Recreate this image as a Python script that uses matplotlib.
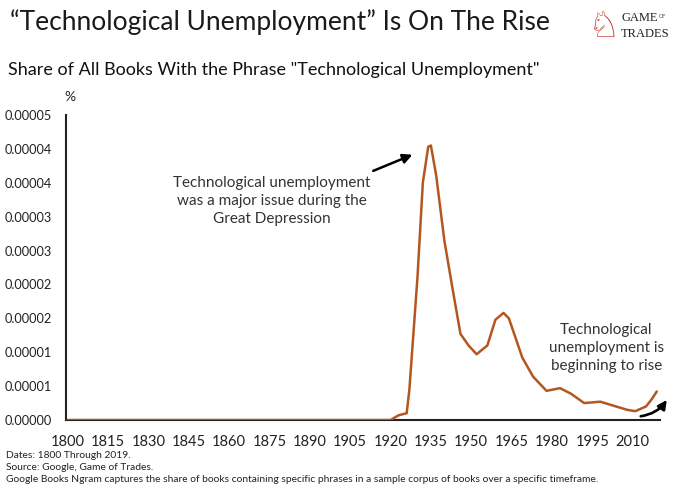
import matplotlib
matplotlib.use("Agg")
import matplotlib.pyplot as plt

plt.rcParams['font.family'] = ['Lato', 'DejaVu Sans']

# share of books with the phrase (%)
years = [1800, 1920, 1923, 1926, 1927, 1930, 1932, 1934, 1935, 1937, 1940, 1943,
         1946, 1949, 1952, 1956, 1959, 1962, 1964, 1969, 1973, 1978, 1983, 1987,
         1992, 1998, 2003, 2008, 2011, 2015, 2017, 2019]
share = [0, 0, 0.07e-5, 0.10e-5, 0.45e-5, 2.1e-5, 3.5e-5, 4.03e-5, 4.05e-5, 3.6e-5,
         2.65e-5, 1.95e-5, 1.27e-5, 1.1e-5, 0.97e-5, 1.1e-5, 1.48e-5, 1.58e-5,
         1.5e-5, 0.92e-5, 0.64e-5, 0.43e-5, 0.47e-5, 0.39e-5, 0.25e-5, 0.27e-5,
         0.21e-5, 0.15e-5, 0.13e-5, 0.2e-5, 0.3e-5, 0.42e-5]

xticks = list(range(1800, 2011, 15))
yticks = [i * 0.5e-5 for i in range(10)]
ytick_labels = ["0.00000", "0.00001", "0.00001", "0.00002", "0.00002",
                "0.00003", "0.00003", "0.00004", "0.00004", "0.00005"]

fig = plt.figure(figsize=(6.8, 4.95), dpi=100)
ax = fig.add_axes([66 / 680, 1 - 420 / 495, (660 - 66) / 680, 305 / 495])

ax.plot(years, share, color='#b4561f', lw=1.8, solid_capstyle='round', zorder=3)

ax.set_xlim(1799.3, 2020.2)
ax.set_ylim(0, 4.5e-5)
ax.set_xticks(xticks)
ax.set_xticklabels([str(y) for y in xticks], fontsize=10.5)
ax.set_yticks(yticks)
ax.set_yticklabels(ytick_labels, fontsize=9.2)
ax.tick_params(axis='both', length=0, colors='#222222')
ax.tick_params(axis='y', pad=10)
ax.tick_params(axis='x', pad=11)
for s in ['top', 'right']:
    ax.spines[s].set_visible(False)
for s in ['left', 'bottom']:
    ax.spines[s].set_linewidth(1.5)
    ax.spines[s].set_color('#222222')

# annotations
ax.text(1875.8, 3.23e-5, "Technological unemployment\nwas a major issue during the\nGreat Depression",
        ha='center', va='center', fontsize=11, color='#333333', linespacing=1.35)
ax.annotate("", xy=(1929.1, 3.93e-5), xytext=(1912.6, 3.66e-5),
            arrowprops=dict(arrowstyle='-|>', color='black', lw=1.8, mutation_scale=14))

ax.text(2000.3, 1.06e-5, "Technological\nunemployment is\nbeginning to rise",
        ha='center', va='center', fontsize=11, color='#333333', linespacing=1.35)
ax.annotate("", xy=(2023.3, 0.33e-5), xytext=(2012.0, 0.05e-5),
            arrowprops=dict(arrowstyle='-|>', color='black', lw=1.9, mutation_scale=13,
                            connectionstyle='arc3,rad=0.25'),
            annotation_clip=False)

# titles
fig.text(10 / 680, 1 - 22 / 495, "\u201cTechnological Unemployment\u201d Is On The Rise",
         fontsize=19, va='center', ha='left', color='#1a1a1a')
fig.text(8 / 680, 1 - 70 / 495, 'Share of All Books With the Phrase "Technological Unemployment"',
         fontsize=13, va='center', ha='left', color='#111111')
fig.text(70 / 680, 1 - 97 / 495, "%", fontsize=10, va='center', ha='center', color='#222222')

# logo
fig.text(604 / 680, 1 - 27 / 495, "\u2658", fontsize=26, color='#c8423a', ha='center', va='center',
         family=['DejaVu Sans'])
fig.text(621 / 680, 1 - 18 / 495, "GAME", fontsize=9, family=['Liberation Serif'],
         color='#222222', va='center', ha='left')
fig.text(659 / 680, 1 - 17 / 495, "OF", fontsize=4, family=['Liberation Serif'],
         color='#222222', va='center', ha='left')
fig.text(621 / 680, 1 - 34 / 495, "TRADES", fontsize=9, family=['Liberation Serif'],
         color='#222222', va='center', ha='left')

# footnotes
notes = ["Dates: 1800 Through 2019.",
         "Source: Google, Game of Trades.",
         "Google Books Ngram captures the share of books containing specific phrases in a sample corpus of books over a specific timeframe."]
for i, n in enumerate(notes):
    fig.text(6 / 680, 1 - (455 + i * 12.5) / 495, n, fontsize=7.4, va='center', ha='left', color='#222222')

fig.savefig("out.png", dpi=100)
